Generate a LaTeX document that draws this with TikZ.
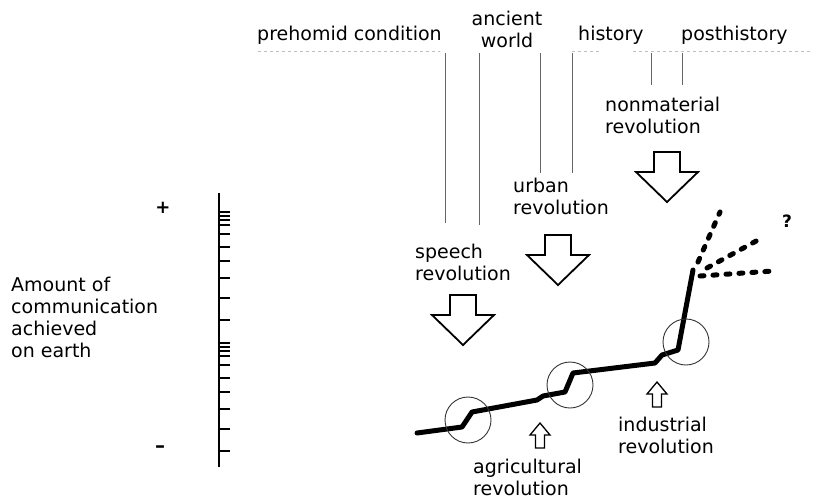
\documentclass[tikz,border=0pt]{standalone}
\usepackage{fontspec}
\setmainfont{DejaVu Sans}

\tikzset{
  label/.style={inner sep=0pt,font=\fontsize{19}{21.5}\selectfont},
  sepline/.style={black!60,line width=0.8pt},
  faint/.style={black!25,dashed,line width=0.6pt},
  blockarrow/.style={line width=1.8pt,line join=miter},
  smallarrow/.style={line width=1.3pt,line join=miter},
  growth/.style={line width=5pt,line join=round,line cap=round},
  branch/.style={line width=5pt,line cap=round,dash pattern=on 4pt off 9pt},
  ring/.style={black!80,line width=0.9pt},
  pics/bigdown/.style={code={
    \draw[blockarrow] (-13,0) -- (13,0) -- (13,20) -- (31,20) -- (0,50)
      -- (-31,20) -- (-13,20) -- cycle;}},
  pics/smallup/.style={code={
    \draw[smallarrow] (0,0) -- (10,12) -- (4.5,12) -- (4.5,25) -- (-4.5,25)
      -- (-4.5,12) -- (-10,12) -- cycle;}},
}

\begin{document}
\begin{tikzpicture}[x=1pt,y=-1pt]

  \useasboundingbox (0,0) rectangle (829,501);

  % period labels along the top (base = last line)
  \node[label,anchor=base west] (prehomid) at (257,40) {prehomid condition};
  \node[label,anchor=base,align=center] (ancient) at (507,47) {ancient\\world};
  \node[label,anchor=base west] (history) at (578,40) {history};
  \node[label,anchor=base west] (posthist) at (681,40) {posthistory};

  \draw[faint] (258,51) -- (440,51);
  \draw[faint] (572,51) -- (600,51);
  \draw[faint] (633,51) -- (810,51);

  \foreach \x/\b in {445/223,479/225,540/173,572/173,651/85,682/85}
    \draw[sepline] (\x,53) -- (\x,\b);

  % revolutions from above
  \node[label,anchor=base west,align=left] (nonmat) at (605,133) {nonmaterial\\revolution};
  \node[label,anchor=base west,align=left] (urban) at (513,214) {urban\\revolution};
  \node[label,anchor=base west,align=left] (speech) at (415,280) {speech\\revolution};

  \pic at (667,152) {bigdown};
  \pic at (558,235) {bigdown};
  \pic at (463,295) {bigdown};

  % scale
  \node[label,anchor=base west,align=left,font=\fontsize{19}{22}\selectfont] (amount) at (11,357) {Amount of\\communication\\achieved\\on earth};
  \node[inner sep=0pt,font=\fontsize{18}{18}\bfseries] (plus) at (163,208) {+};
  \node[inner sep=0pt,font=\fontsize{20}{20}\bfseries] (minus) at (160,449) {--};

  \draw[line width=1.3pt] (219,193) -- (219,467);
  \foreach \o in {212,343} {
    \draw[line width=2.6pt] (219,\o) -- ++(11,0);
    \foreach \d in {4,8,13,22,35,49,66,86,108}
      \draw[line width=1.1pt] (219,\o+\d) -- ++(11,0);
  }

  % the growth curve
  \coordinate (fork) at (693,270);
  \draw[growth] (417,433) -- (462,427) -- (472,412) -- (537,400) -- (543,396)
    -- (565,392) -- (573,373) -- (655,363) -- (662,355) -- (678,350) -- (fork);
  \draw[branch] (698,262) -- (720,212);
  \draw[branch] (707,268) -- (758,240);
  \draw[branch] (700,276) -- (773,271);
  \node[inner sep=0pt,font=\fontsize{17}{17}\bfseries] (query) at (787,221) {?};

  \draw[ring] (468,420) circle (23);
  \draw[ring] (570,385) circle (23);
  \draw[ring] (686,342) circle (23);

  % revolutions from below
  \pic at (540,423) {smallup};
  \pic at (657,382) {smallup};
  \node[label,anchor=base west,align=left] (agri) at (473,495) {agricultural\\revolution};
  \node[label,anchor=base west,align=left] (indus) at (618,453) {industrial\\revolution};

\end{tikzpicture}
\end{document}
